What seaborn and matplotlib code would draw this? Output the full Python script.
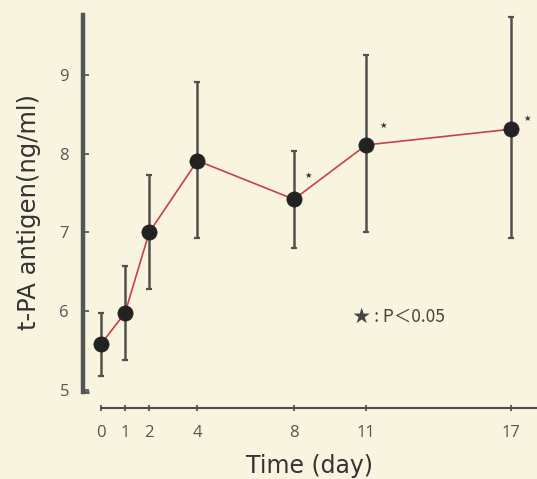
import matplotlib
matplotlib.use("Agg")
import matplotlib.pyplot as plt
import seaborn as sns
import pandas as pd

days = [0, 1, 2, 4, 8, 11, 17]
mean_tpa = [5.58, 5.98, 7.0, 7.91, 7.42, 8.11, 8.31]
upper_tpa = [5.98, 6.57, 7.73, 8.91, 8.03, 9.25, 9.74]
lower_tpa = [5.17, 5.38, 6.28, 6.93, 6.80, 7.00, 6.93]
sig_days = [8, 11, 17]
yticks = [5, 6, 7, 8, 9]
xtick_labels = ["0", "1", "2", "4", "8", "11", "17"]

df = pd.DataFrame({"day": days, "tpa": mean_tpa})
err_lo = [m - l for m, l in zip(mean_tpa, lower_tpa)]
err_hi = [u - m for m, u in zip(mean_tpa, upper_tpa)]

sns.set_theme(style="ticks")
plt.rcParams["font.family"] = ["Open Sans", "DejaVu Sans"]

bg = "#f8f4df"
axc = "#4d4d4d"
fig = plt.figure(figsize=(5.37, 4.79), dpi=100, facecolor=bg)
ax = fig.add_axes([83/537, 71/479, 454/537, 393/479])
ax.set_facecolor(bg)

ax.errorbar(days, mean_tpa, yerr=[err_lo, err_hi], fmt="none", ecolor="#505050",
            elinewidth=1.8, capsize=2.5, capthick=1.6, zorder=2)
sns.lineplot(data=df, x="day", y="tpa", ax=ax, color="#c8404e", linewidth=1.2, zorder=3)
sns.scatterplot(data=df, x="day", y="tpa", ax=ax, color="#222222", s=120,
                edgecolor="#222222", linewidth=0.5, zorder=4)

star_off = {8: (10, 17), 11: (12, 14), 17: (12, 8)}
for d in sig_days:
    i = days.index(d)
    ax.annotate("★", (d, mean_tpa[i]), xytext=star_off[d], textcoords="offset points",
                ha="center", va="center", fontsize=6, color="#333333",
                family=["DejaVu Sans"])

ax.text(0.595, 0.232, "★ : P＜0.05", transform=ax.transAxes, fontsize=12.5,
        color="#444444", ha="left", va="center",
        family=["Noto Sans CJK JP", "DejaVu Sans"])

ax.set_xlim(-0.746, 18.08)
ax.set_ylim(4.77, 9.76)
ax.set_xticks(days)
ax.set_xticklabels(xtick_labels)
ax.set_yticks(yticks)

for s in ["top", "right"]:
    ax.spines[s].set_visible(False)
ax.spines["left"].set_linewidth(3.2)
ax.spines["left"].set_color("#555555")
ax.spines["left"].set_bounds(4.975, 9.76)
ax.spines["bottom"].set_linewidth(1.5)
ax.spines["bottom"].set_color(axc)
ax.spines["bottom"].set_bounds(0, 18.08)
ax.plot([0, 0.013], [0.041, 0.041], transform=ax.transAxes, color="#555555",
        linewidth=2, solid_capstyle="butt", clip_on=False)

ax.tick_params(axis="y", direction="in", length=4, width=1.2, color=axc,
               labelsize=12, labelcolor="#555555", pad=10)
ax.tick_params(axis="x", direction="inout", length=5, width=1.2, color=axc,
               labelsize=12, labelcolor="#555555", pad=10)

ax.set_xlabel("Time (day)", fontsize=17, color="#333333", labelpad=9,
              family=["DejaVu Sans"])
ax.set_ylabel("t-PA antigen(ng/ml)", fontsize=17.5, color="#333333", labelpad=13,
              family=["DejaVu Sans"])

fig.savefig("out.png", dpi=100, facecolor=bg)
